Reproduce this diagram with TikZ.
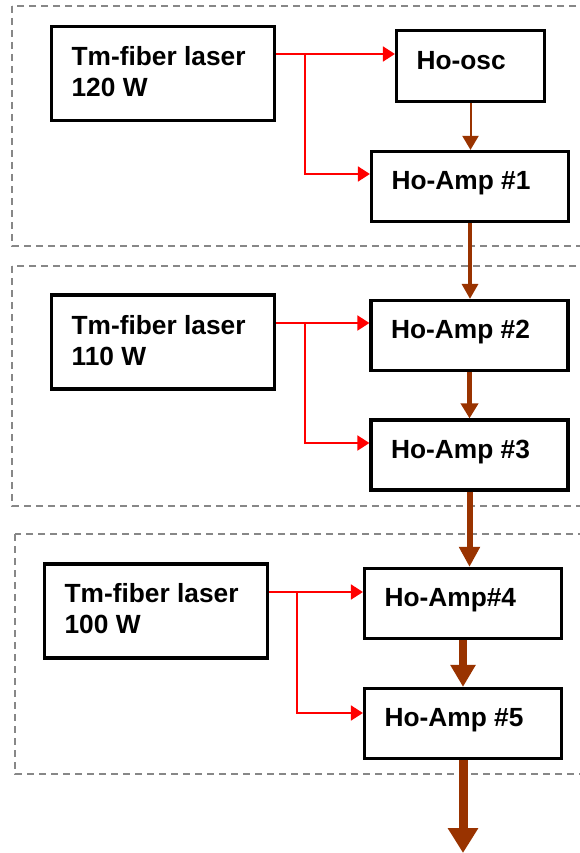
\documentclass[tikz,border=0pt]{standalone}
\usepackage{fontspec}
\setmainfont{Liberation Sans}
\usetikzlibrary{positioning,arrows.meta}

\definecolor{beambrown}{RGB}{153,51,0}
\definecolor{framegray}{RGB}{135,135,135}

\begin{document}
\begin{tikzpicture}[x=1pt, y=-1pt,
    box/.style={draw, line width=3.2pt, inner sep=0pt},
    laser/.style={box, minimum width=223pt, minimum height=94pt},
    unit/.style={box, minimum width=197pt, minimum height=70pt},
    lbl/.style={inner sep=0pt, align=left, font=\fontsize{26.3}{31}\selectfont\bfseries},
    stage/.style={draw=framegray, line width=1.8pt, dash pattern=on 7pt off 5pt},
    pump/.style={draw=red, line width=1.8pt, -{Triangle[length=12pt, width=15pt]}},
    beam/.style={draw=beambrown, line width=#1}
  ]
  \clip (0,0) rectangle (580,853);

  % dashed frames, one per pump laser
  \draw[stage] (12,6) rectangle (600,246);
  \draw[stage] (12,266) rectangle (600,506);
  \draw[stage] (15,534) rectangle (600,774);

  % Stage 1
  \node[laser] (laser1) at (163,73.5) {};
  \node[lbl, below right=21.5pt and 21.5pt of laser1.north west] (laser1txt) {Tm-fiber laser\\120 W};
  \node[box, minimum width=148pt, minimum height=71pt] (osc) at (470.5,66) {};
  \node[lbl, below right=22.5pt and 21.5pt of osc.north west] (osctxt) {Ho-osc};
  \node[unit] (amp1) at (470,186.5) {};
  \node[lbl, below right=21.5pt and 21.5pt of amp1.north west] (amp1txt) {Ho-Amp \#1};

  % Stage 2
  \node[laser] (laser2) at (163,342) {};
  \node[lbl, below right=21.5pt and 21.5pt of laser2.north west] (laser2txt) {Tm-fiber laser\\110 W};
  \node[unit] (amp2) at (469.5,335.5) {};
  \node[lbl, below right=21.5pt and 21.5pt of amp2.north west] (amp2txt) {Ho-Amp \#2};
  \node[unit] (amp3) at (469.5,455) {};
  \node[lbl, below right=21.5pt and 21.5pt of amp3.north west] (amp3txt) {Ho-Amp \#3};

  % Stage 3
  \node[laser] (laser3) at (156,611) {};
  \node[lbl, below right=21pt and 21.5pt of laser3.north west] (laser3txt) {Tm-fiber laser\\100 W};
  \node[unit] (amp4) at (463,603.5) {};
  \node[lbl, below right=21.5pt and 21.5pt of amp4.north west] (amp4txt) {Ho-Amp\#4};
  \node[unit] (amp5) at (463,723.5) {};
  \node[lbl, below right=21.5pt and 21.5pt of amp5.north west] (amp5txt) {Ho-Amp \#5};

  % pump lines
  \coordinate (split1) at (305,54);
  \coordinate (turn1) at (305,174);
  \draw[pump] (laser1.east |- split1) -- (osc.west |- split1);
  \draw[pump] (split1) -- (turn1) -- (amp1.west |- turn1);

  \coordinate (split2) at (305,323);
  \coordinate (turn2) at (305,443);
  \draw[pump] (laser2.east |- split2) -- (amp2.west |- split2);
  \draw[pump] (split2) -- (turn2) -- (amp3.west |- turn2);

  \coordinate (split3) at (297,592);
  \coordinate (turn3) at (297,713);
  \draw[pump] (laser3.east |- split3) -- (amp4.west |- split3);
  \draw[pump] (split3) -- (turn3) -- (amp5.west |- turn3);

  % Ho beam, getting thicker at every stage
  \coordinate (out) at (465,853);
  \draw[beam=2pt, -{Triangle[length=14pt, width=16pt]}] (osc.south) -- (osc.south |- amp1.north);
  \draw[beam=3.3pt, -{Triangle[length=15pt, width=16pt]}] (amp1.south) -- (amp1.south |- amp2.north);
  \draw[beam=4.5pt, -{Triangle[length=15pt, width=17pt]}] (amp2.south) -- (amp2.south |- amp3.north);
  \draw[beam=6pt, -{Triangle[length=20pt, width=20pt]}] (amp3.south) -- (amp3.south |- amp4.north);
  \draw[beam=8pt, -{Triangle[length=22pt, width=24pt]}] (amp4.south) -- (amp5.north);
  \draw[beam=9pt, -{Triangle[length=25pt, width=29pt]}] (amp5.south) -- (amp5.south |- out);

\end{tikzpicture}
\end{document}
